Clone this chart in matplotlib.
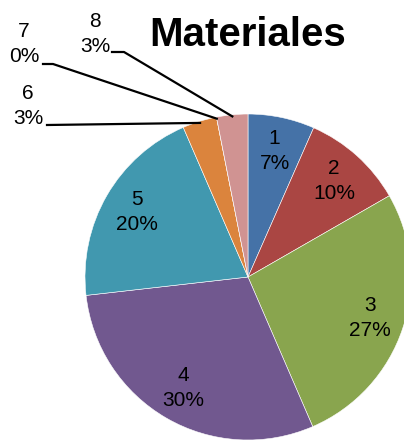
import numpy as np
import matplotlib
matplotlib.use("Agg")
import matplotlib.pyplot as plt

plt.rcParams['font.family'] = ['Liberation Sans', 'DejaVu Sans']

categories = ['1', '2', '3', '4', '5', '6', '7', '8']
values = [6.6, 10.1, 26.8, 29.7, 20.3, 3.4, 0.0, 3.1]
colors = ['#4572A7', '#AA4643', '#89A54E', '#71588F', '#4198AF',
          '#DB843D', '#93A9CF', '#D09392']
title = 'Materiales'

fig = plt.figure(figsize=(4.04, 4.41), dpi=100)
ax = fig.add_axes([0, 0, 1, 1])

# pie centre sits at (248, 277) px, radius 163 px; the chart is cropped right/bottom
R = 163.0
cx, cy = 248.0, 277.0

wedges, _ = ax.pie(values, colors=colors, startangle=90, counterclock=False,
                   radius=1.0, center=(0, 0), frame=True,
                   wedgeprops=dict(edgecolor='white', linewidth=0.4))
ax.set_xlim(-cx / R, (404 - cx) / R)
ax.set_ylim((cy - 441) / R, cy / R)
ax.axis('off')

total = sum(values)
pcts = [f"{round(v / total * 100):.0f}%" for v in values]

def px2data(x, y):
    return (x - cx) / R, (cy - y) / R

fs = 15
inside = [0, 1, 2, 3, 4]
for i in inside:
    w = wedges[i]
    mid = np.deg2rad((w.theta1 + w.theta2) / 2)
    r = 0.79
    ax.text(r * np.cos(mid), r * np.sin(mid), f"{categories[i]}\n{pcts[i]}",
            ha='center', va='center', fontsize=fs, linespacing=1.4)

# outside labels with leader lines
outside = {5: ((28, 106), [(47, 125)]),
           6: ((24, 44), [(43, 64), (53, 64)]),
           7: ((95, 34), [(112, 52), (124, 52)])}
for i, (tpos, pts) in outside.items():
    w = wedges[i]
    mid = np.deg2rad((w.theta1 + w.theta2) / 2)
    tx, ty = px2data(*tpos)
    ax.text(tx, ty, f"{categories[i]}\n{pcts[i]}", ha='center', va='center',
            fontsize=fs, linespacing=1.4)
    xs = [px2data(*p)[0] for p in pts] + [0.99 * np.cos(mid)]
    ys = [px2data(*p)[1] for p in pts] + [0.99 * np.sin(mid)]
    ax.plot(xs, ys, color='black', linewidth=1.6)

tx, ty = px2data(248, 35)
ax.text(tx, ty, title, ha='center', va='center', fontsize=29, fontweight='bold')

fig.savefig('out.png', dpi=100)
